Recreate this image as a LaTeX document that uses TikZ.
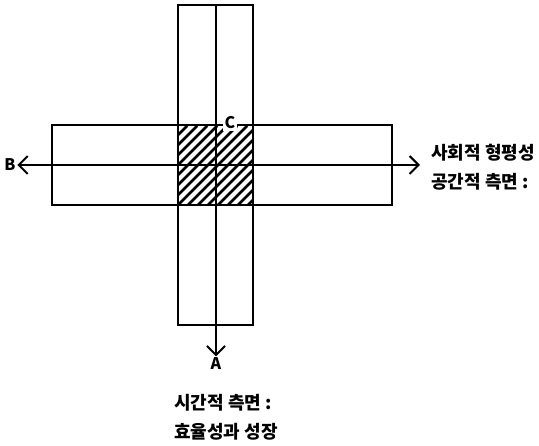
\documentclass[tikz,border=0pt]{standalone}
\usepackage{fontspec}
\newfontfamily\krfont{Noto Sans CJK KR}
\usetikzlibrary{arrows.meta,calc,positioning}

\begin{document}
\begin{tikzpicture}[
        x=1pt, y=-1pt,
        bar/.style={rectangle, draw=black, line width=1.6pt, inner sep=0pt},
        axisline/.style={draw=black, line width=2pt, -{Straight Barb[length=9pt, width=18pt, line width=2pt]}},
        hatch/.style={line width=2.6pt},
        letter/.style={font=\krfont\bfseries\fontsize{16}{16}\selectfont, inner sep=1.5pt},
        caption/.style={font=\krfont\bfseries\fontsize{18}{29}\selectfont, align=left, inner sep=0pt}
    ]
        \useasboundingbox (0,0) rectangle (539,446);

        % Bars
        \node[bar, minimum width=75pt, minimum height=320pt] (vbar) at (215.5,165) {};
        \node[bar, minimum width=340pt, minimum height=80pt] (hbar) at (222,165) {};

        % Hatched crossing
        \begin{scope}
            \clip (hbar.north -| vbar.west) rectangle (hbar.south -| vbar.east);
            \foreach \i in {0,...,16}
                \draw[hatch] ($(hbar.south -| vbar.west)+(\i*10-80,0)$) -- ++(80,-80);
        \end{scope}

        % Labels
        \node[letter] (B) at (10,165) {B};
        \node[letter] (A) at (216,364) {A};
        \node[letter, fill=white] (C) at (230,123) {C};
        \coordinate (rt) at (420,165);
        \coordinate (top) at (216,5);

        % Axes
        \draw[axisline] (top) -- (A);
        \draw[axisline] (hbar.center) -- (B);
        \draw[axisline] (hbar.center) -- (rt);

        % Captions
        \node[caption, anchor=west] (space) at (431,167) {사회적 형평성\\공간적 측면 :};
        \node[caption, anchor=west] (time) at (174,417) {시간적 측면 :\\효율성과 성장};

    \end{tikzpicture}
\end{document}
